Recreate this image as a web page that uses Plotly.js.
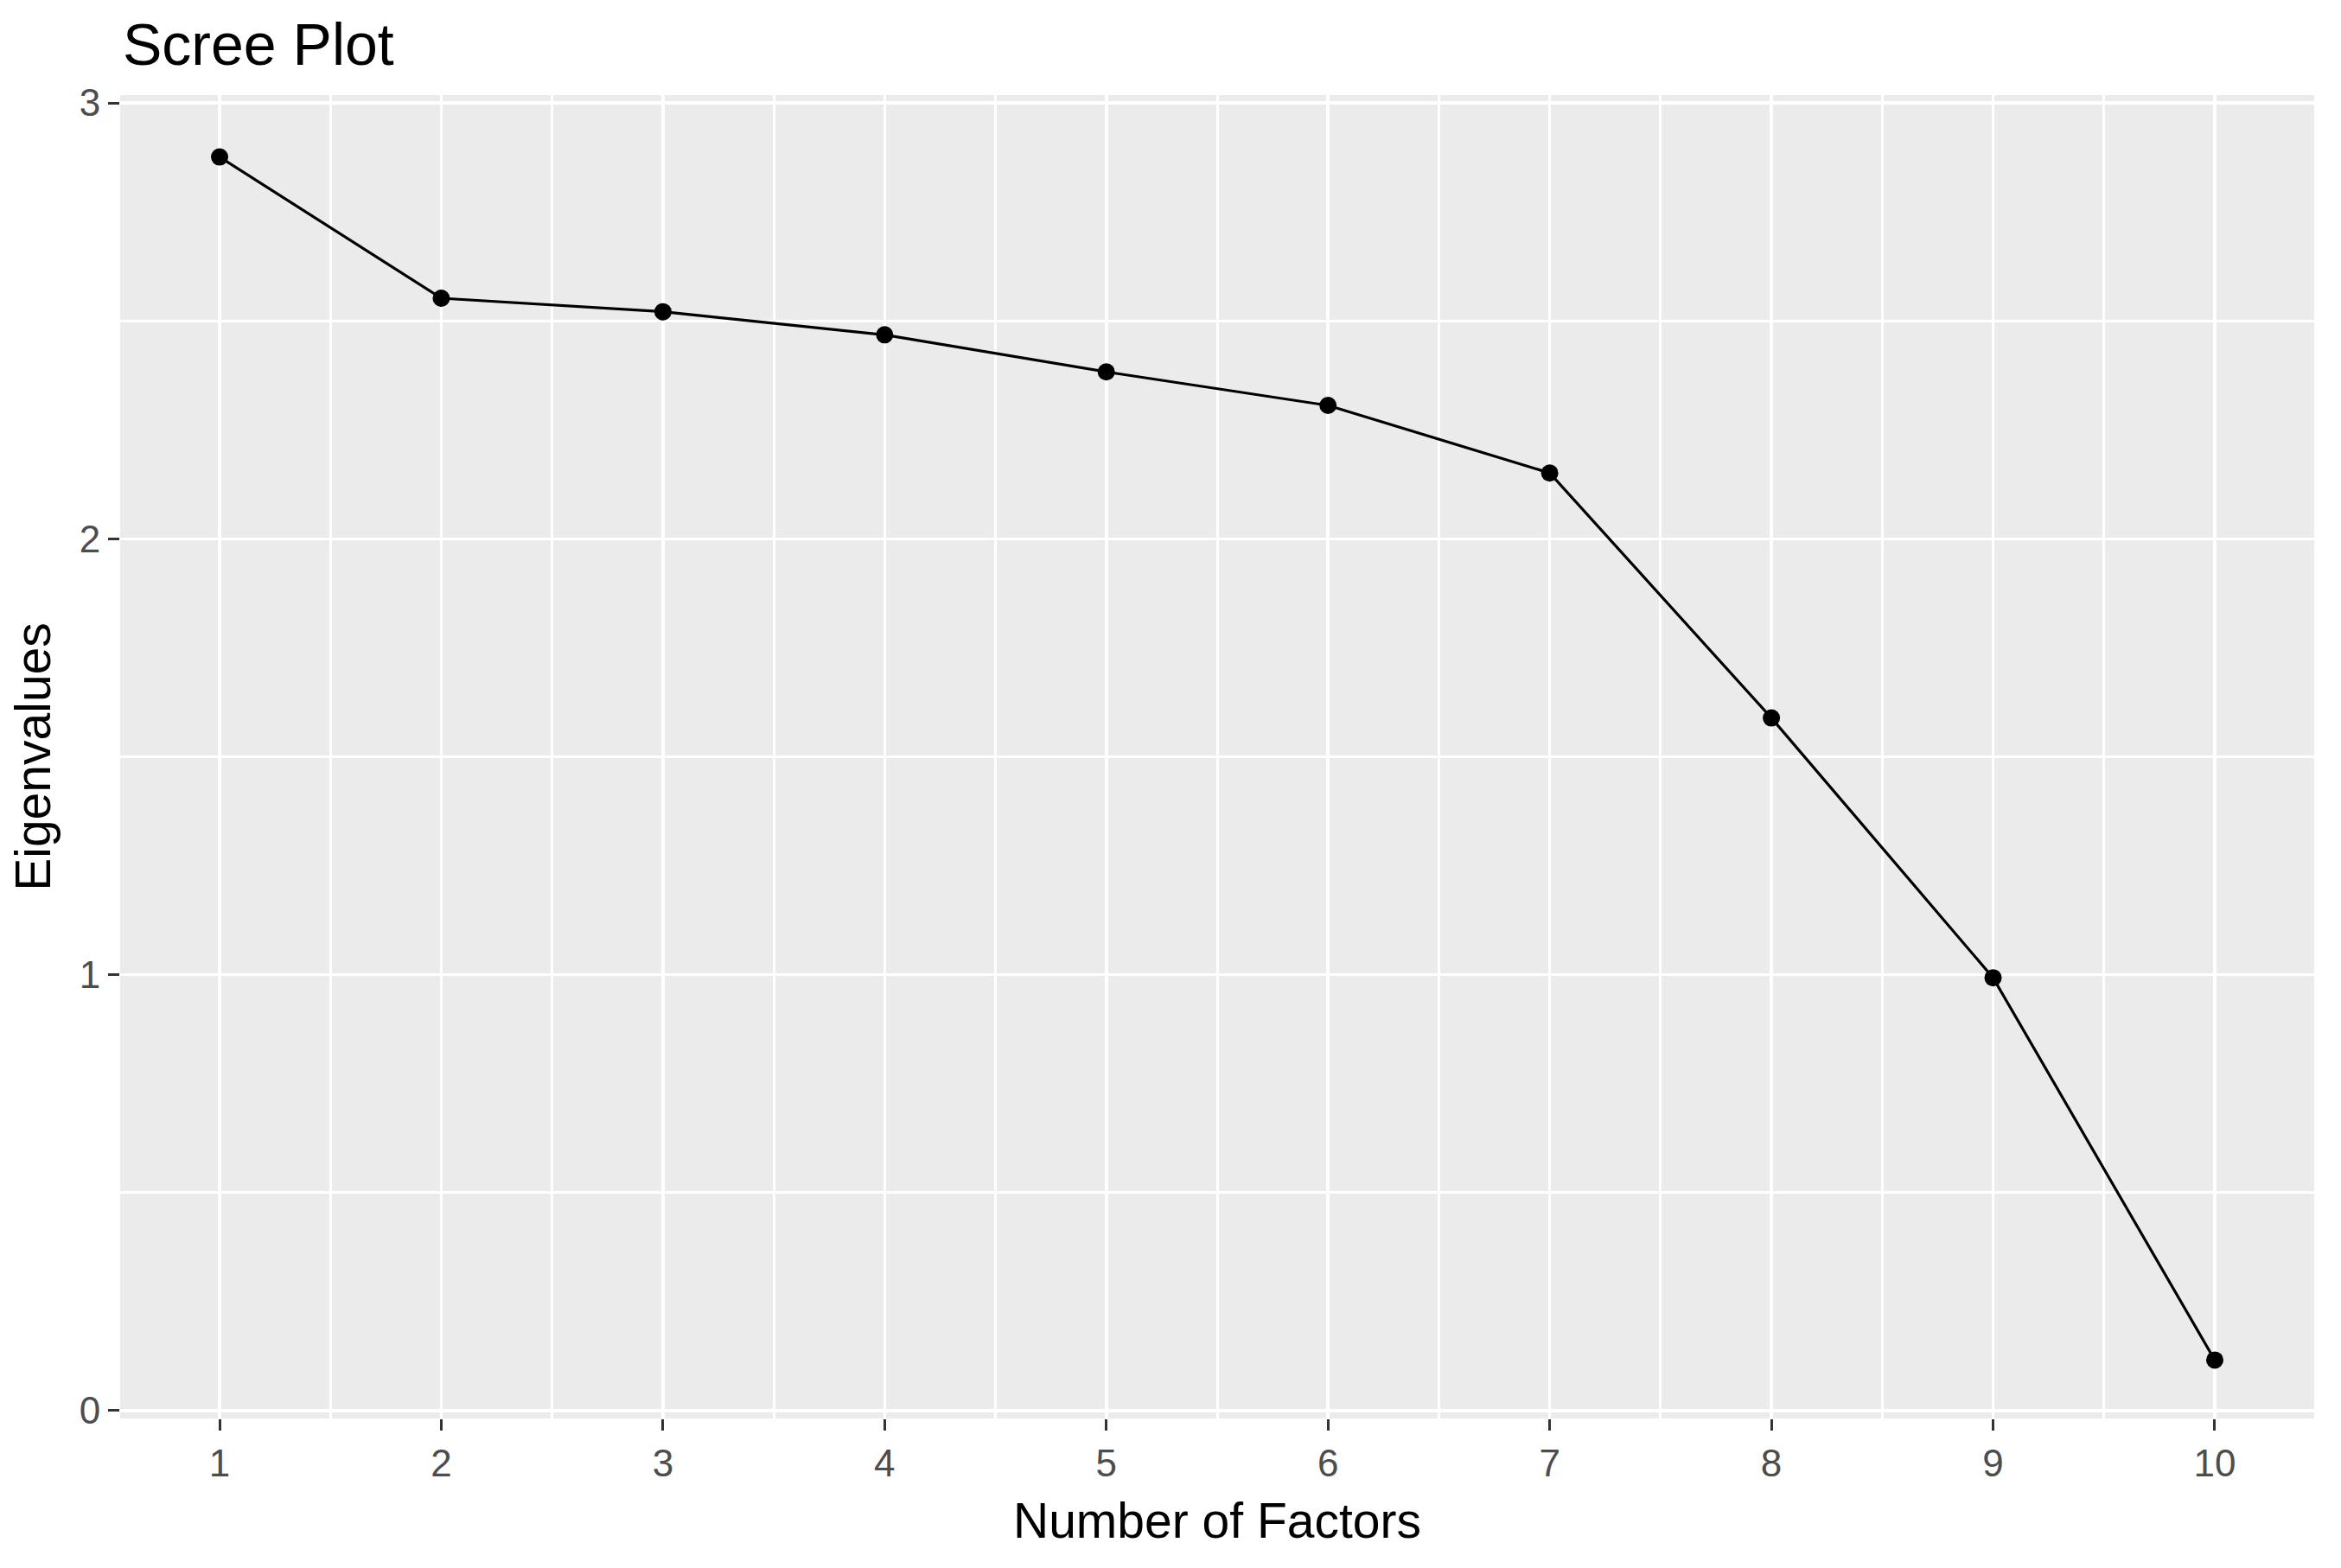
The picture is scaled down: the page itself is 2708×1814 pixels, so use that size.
<!DOCTYPE html>
<html>
<head>
<meta charset="utf-8">
<script src="https://cdn.plot.ly/plotly-3.0.1.min.js"></script>
<style>html,body{margin:0;padding:0;background:#fff;}#chart{width:2708px;height:1814px;}</style>
</head>
<body>
<div id="chart"></div>
<script>
const factors = [1, 2, 3, 4, 5, 6, 7, 8, 9, 10];
const eigenvalues = [2.876, 2.552, 2.521, 2.468, 2.383, 2.306, 2.151, 1.589, 0.993, 0.116];
const xTickVals = [1, 2, 3, 4, 5, 6, 7, 8, 9, 10];
const xTickText = ['1', '2', '3', '4', '5', '6', '7', '8', '9', '10'];
const yTickVals = [0, 1, 2, 3];
const yTickText = ['0', '1', '2', '3'];

const FONT = 'Liberation Sans, Arial, Helvetica, sans-serif';

const trace = {
  x: factors,
  y: eigenvalues,
  type: 'scatter',
  mode: 'lines+markers',
  line: {color: '#000000', width: 3.2},
  marker: {color: '#000000', size: 20},
  hoverinfo: 'skip',
  showlegend: false
};

const layout = {
  width: 2708,
  height: 1814,
  paper_bgcolor: '#FFFFFF',
  plot_bgcolor: '#EBEBEB',
  margin: {l: 139, r: 31, t: 110, b: 173, pad: 0},
  font: {family: FONT, color: '#000000'},
  title: {
    text: 'Scree Plot',
    font: {family: FONT, size: 68, color: '#000000'},
    x: 142 / 2708,
    xanchor: 'left',
    xref: 'container',
    y: 1 - 51 / 1814,
    yanchor: 'middle',
    yref: 'container'
  },
  xaxis: {
    range: [0.5515, 10.4485],
    tickmode: 'array',
    tickvals: xTickVals,
    ticktext: xTickText,
    ticks: 'outside',
    ticklen: 13,
    tickwidth: 3,
    tickcolor: '#333333',
    tickfont: {family: FONT, size: 44, color: '#4D4D4D'},
    showgrid: true,
    gridcolor: '#FFFFFF',
    gridwidth: 3.5,
    zeroline: false,
    showline: false,
    minor: {tickmode: 'linear', tick0: 0.5, dtick: 1, showgrid: true, gridcolor: '#FFFFFF', gridwidth: 3, ticks: ''},
    title: {text: 'Number of Factors', font: {family: FONT, size: 57, color: '#000000'}, standoff: 23}
  },
  yaxis: {
    range: [-0.018, 3.018],
    tickmode: 'array',
    tickvals: yTickVals,
    ticktext: yTickText,
    ticks: 'outside',
    ticklen: 13,
    tickwidth: 3,
    tickcolor: '#333333',
    tickfont: {family: FONT, size: 44, color: '#4D4D4D'},
    showgrid: true,
    gridcolor: '#FFFFFF',
    gridwidth: 3.5,
    zeroline: false,
    showline: false,
    minor: {tickmode: 'linear', tick0: 0.5, dtick: 1, showgrid: true, gridcolor: '#FFFFFF', gridwidth: 3, ticks: ''},
    title: {text: 'Eigenvalues', font: {family: FONT, size: 57, color: '#000000'}, standoff: 14}
  }
};

Plotly.newPlot('chart', [trace], layout, {displayModeBar: false, staticPlot: true});
</script>
</body>
</html>
